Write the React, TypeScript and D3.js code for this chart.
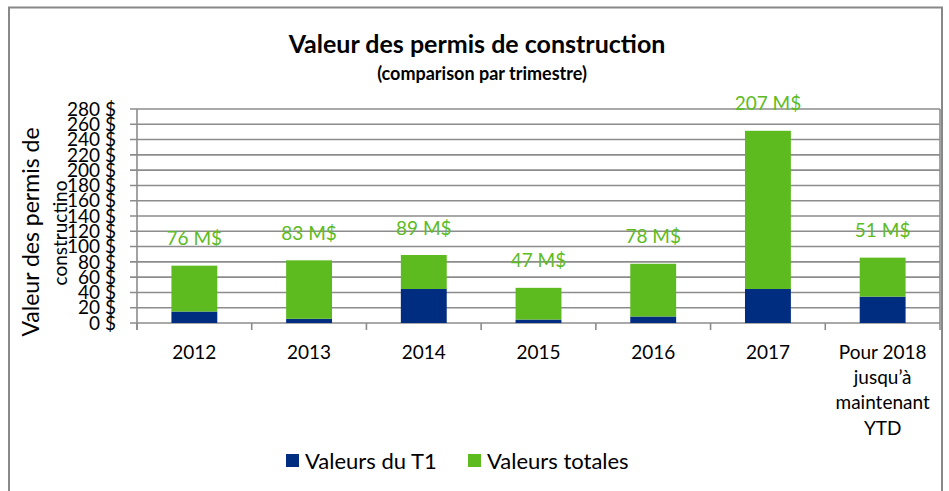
import React from "react";
import * as d3 from "d3";

const categories = ["2012", "2013", "2014", "2015", "2016", "2017", "Pour 2018 jusqu’à maintenant YTD"];
const categoryLines = [["2012"], ["2013"], ["2014"], ["2015"], ["2016"], ["2017"], ["Pour 2018", "jusqu’à", "maintenant", "YTD"]];
const t1Values = [15, 5.5, 44.5, 4.5, 8.5, 44.5, 34.5];
const totalValues = [60, 76.5, 44.5, 41.5, 69, 207, 51];
const dataLabels = ["76 M$", "83 M$", "89 M$", "47 M$", "78 M$", "207 M$", "51 M$"];
const yTicks = d3.range(0, 281, 20);
const seriesNames = ["Valeurs du T1", "Valeurs totales"];
const colors = ["#002d80", "#5dbb1f"];

const W = 949, H = 491;
const FONT = "Lato, 'Open Sans', sans-serif";

export default function App() {
  const plotL = 137, plotR = 940, plotT = 109, plotB = 323;
  const x = d3.scaleBand<string>().domain(categories).range([plotL, plotR]).paddingInner(0.6).paddingOuter(0.3);
  const xOuter = d3.scaleBand<string>().domain(categories).range([plotL, plotR]);
  const y = d3.scaleLinear().domain([0, 280]).range([plotB, plotT]);
  const grid = "#8c8c8c";

  return (
    <svg width={W} height={H} style={{ position: "absolute", left: 0, top: 0, background: "#fff" }} fontFamily={FONT}>
      <rect x={9} y={7.5} width={933} height={495} fill="#fff" stroke="#888" strokeWidth={2} />
      <text x={477} y={53} textAnchor="middle" fontWeight={700} fontSize={25} fill="#000">Valeur des permis de construction</text>
      <text x={482} y={80} textAnchor="middle" fontWeight={700} fontSize={18} fill="#000">(comparison par trimestre)</text>

      {yTicks.map((t) => (
        <g key={t}>
          <line x1={130} x2={plotR} y1={y(t)} y2={y(t)} stroke={grid} strokeWidth={1.6} />
          <text x={116} y={y(t)} dy="0.35em" textAnchor="end" fontSize={19} fill="#000">{`${t} $`}</text>
        </g>
      ))}
      <line x1={plotL} x2={plotL} y1={plotT} y2={plotB + 7} stroke={grid} strokeWidth={1.6} />
      <line x1={plotR} x2={plotR} y1={plotT} y2={plotB + 7} stroke={grid} strokeWidth={1.6} />
      {categories.map((c) => (
        <line key={c} x1={xOuter(c)!} x2={xOuter(c)!} y1={plotB} y2={plotB + 7} stroke={grid} strokeWidth={1.6} />
      ))}

      {categories.map((c, i) => {
        const x0 = x(c)!;
        const bw = x.bandwidth();
        const top = t1Values[i] + totalValues[i];
        return (
          <g key={c}>
            <rect x={x0} y={y(t1Values[i])} width={bw} height={y(0) - y(t1Values[i])} fill={colors[0]} />
            <rect x={x0} y={y(top)} width={bw} height={y(t1Values[i]) - y(top)} fill={colors[1]} />
            <text x={x0 + bw / 2} y={y(top) - 27} dy="0.35em" textAnchor="middle" fontSize={19} fill={colors[1]}>{dataLabels[i]}</text>
            {categoryLines[i].map((ln, j) => (
              <text key={j} x={xOuter(c)! + xOuter.bandwidth() / 2} y={352 + j * 25.3} dy="0.35em" textAnchor="middle" fontSize={19} fill="#000">{ln}</text>
            ))}
          </g>
        );
      })}

      <text transform={`translate(31,232) rotate(-90)`} textAnchor="middle" dy="0.35em" fontSize={23} fill="#000">Valeur des  permis de</text>
      <text transform={`translate(60,233) rotate(-90)`} textAnchor="middle" dy="0.35em" fontSize={19} fill="#000">constructino</text>

      {seriesNames.map((s, i) => {
        const lx = [286, 468][i];
        return (
          <g key={s}>
            <rect x={lx} y={454} width={13} height={13} fill={colors[i]} />
            <text x={lx + 19} y={461} dy="0.35em" fontSize={22} fill="#000">{s}</text>
          </g>
        );
      })}
    </svg>
  );
}
